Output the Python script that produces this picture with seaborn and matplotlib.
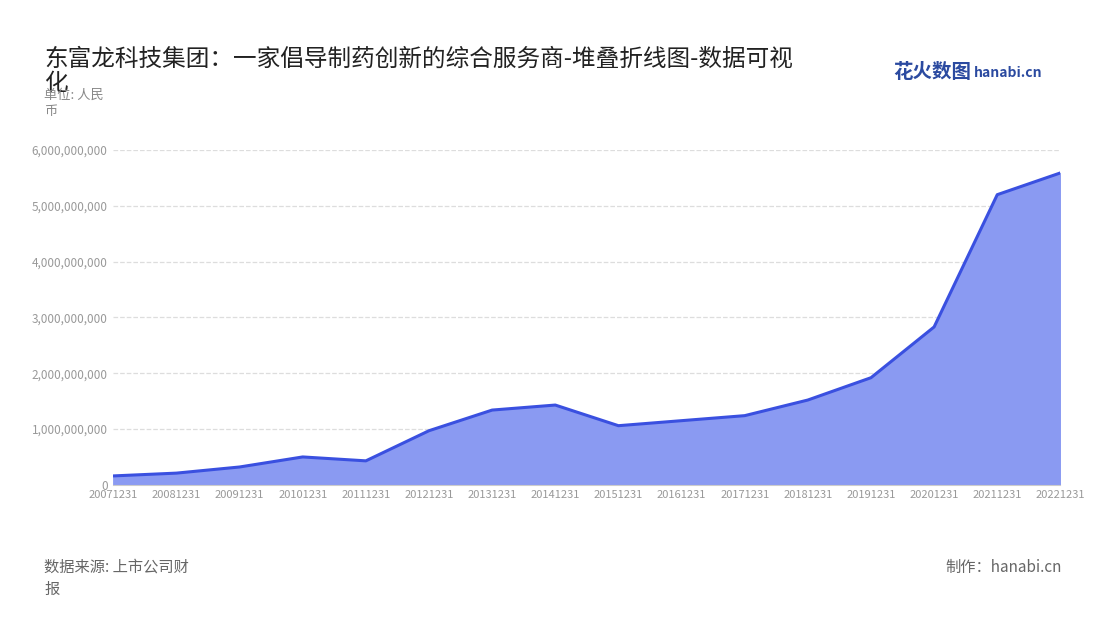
import matplotlib.pyplot as plt
import seaborn as sns
import pandas as pd

dates = ['20071231', '20081231', '20091231', '20101231', '20111231', '20121231',
         '20131231', '20141231', '20151231', '20161231', '20171231', '20181231',
         '20191231', '20201231', '20211231', '20221231']
revenue = [0.16e9, 0.21e9, 0.32e9, 0.50e9, 0.43e9, 0.97e9, 1.34e9, 1.43e9,
           1.06e9, 1.15e9, 1.24e9, 1.52e9, 1.92e9, 2.83e9, 5.20e9, 5.59e9]

sns.set_style('white')
plt.rcParams['font.family'] = ['Noto Sans CJK SC', 'DejaVu Sans']

df = pd.DataFrame({'date': dates, 'value': revenue})
df['x'] = range(len(df))

fig = plt.figure(figsize=(11, 6.2), dpi=100)
ax = fig.add_axes([0.103, 0.218, 0.861, 0.54])

ax.fill_between(df['x'], df['value'], color='#8a9af2', alpha=1.0, zorder=2)
sns.lineplot(data=df, x='x', y='value', color='#3a50e0', linewidth=2.2, ax=ax, zorder=3)

ax.set_xlim(0, len(df) - 1)
ax.set_ylim(0, 6e9)
ax.set_xticks(df['x'])
ax.set_xticklabels(df['date'], fontsize=8, color='#999999')
ax.set_yticks([i * 1e9 for i in range(7)])
ax.set_yticklabels(['0'] + [f'{i * 1000000000:,}' for i in range(1, 7)], fontsize=8.5, color='#999999')
ax.yaxis.grid(True, linestyle='--', color='#dddddd', linewidth=0.9)
ax.set_xlabel('')
ax.set_ylabel('')
for s in ['top', 'right', 'left']:
    ax.spines[s].set_visible(False)
ax.spines['bottom'].set_color('#cccccc')
ax.tick_params(axis='both', length=0, pad=4)

fig.text(0.04, 0.885, '东富龙科技集团：一家倡导制药创新的综合服务商-堆叠折线图-数据可视\n化',
         fontsize=17, color='#222222', va='center', linespacing=1.1)
fig.text(0.04, 0.833, '单位: 人民\n币', fontsize=9.5, color='#888888', va='center', linespacing=1.3)
fig.text(0.04, 0.068, '数据来源: 上市公司财\n报', fontsize=11, color='#666666', va='center', linespacing=1.4)
fig.text(0.965, 0.085, '制作：hanabi.cn', fontsize=11, color='#666666', ha='right', va='center')
fig.text(0.812, 0.883, '花火数图', fontsize=14, color='#2b4aa0', fontweight='bold', va='center')
fig.text(0.885, 0.883, 'hanabi.cn', fontsize=10, color='#2b4aa0', fontweight='bold', va='center')

fig.savefig('out.png', dpi=100)
